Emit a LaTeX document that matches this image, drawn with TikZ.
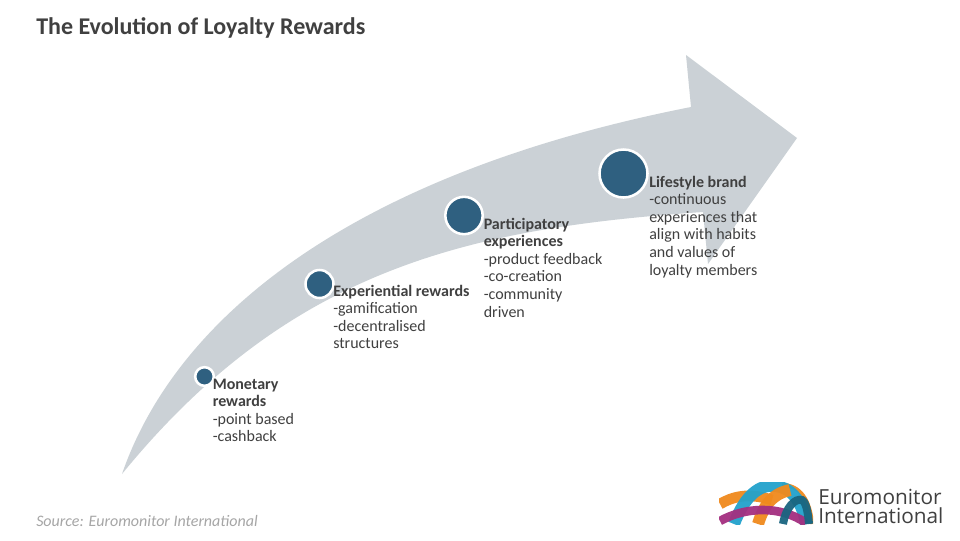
\documentclass[tikz,border=0pt]{standalone}
\usepackage{fontspec}
\setmainfont{Carlito}
\newfontfamily\logofont{Open Sans}
\definecolor{arrowgrey}{HTML}{CBD1D6}
\definecolor{dotblue}{HTML}{2F6080}
\definecolor{ink}{HTML}{404040}
\definecolor{srcgrey}{HTML}{A6A6A6}
\definecolor{lorange}{HTML}{F08A1D}
\definecolor{lblue}{HTML}{22A2CC}
\definecolor{lpurple}{HTML}{A42F80}
\definecolor{lteal}{HTML}{1A6580}
\tikzset{
  dot/.style={circle,draw=white,line width=1.9pt,fill=dotblue,inner sep=0pt,minimum size=#1},
  lab/.style={anchor=north west,align=left,inner sep=0pt,text=ink,font=\fontsize{12}{13.2}\selectfont},
  band/.style={line width=#1,line cap=butt,opacity=.95}
}
\begin{document}
\begin{tikzpicture}[x=0.75pt,y=-0.75pt]
\useasboundingbox (0,0) rectangle (960,540);
\fill[white] (0,0) rectangle (960,540);
\fill[arrowgrey] (122,474) .. controls (178,312) and (360,172) .. (691,107)
  -- (686,55) -- (797,138) -- (708,264) -- (703,212)
  .. controls (470,228) and (290,268) .. (122,474) -- cycle;
\node[anchor=west,inner sep=0pt,text=ink,font=\fontsize{18}{20}\selectfont\bfseries] (title) at (36,28) {The Evolution of Loyalty Rewards};
\node[dot=14pt] (d1) at (204.5,376.5) {};
\node[dot=21pt] (d2) at (319.5,284) {};
\node[dot=28pt] (d3) at (464,215.5) {};
\node[dot=36pt] (d4) at (623.5,173.5) {};
\node[lab] (t1) at (212.5,378.5) {\textbf{Monetary}\\\textbf{rewards}\\-point based\\-cashback};
\node[lab] (t2) at (333,284.5) {\textbf{Experiential rewards}\\-gamification\\-decentralised\\structures};
\node[lab] (t3) at (483.5,217.5) {\textbf{Participatory}\\\textbf{experiences}\\-product feedback\\-co-creation\\-community\\driven};
\node[lab] (t4) at (649,175.5) {\textbf{Lifestyle brand}\\-continuous\\experiences that\\align with habits\\and values of\\loyalty members};
\node[anchor=west,inner sep=0pt,text=srcgrey,font=\fontsize{12}{14}\selectfont\itshape] (src) at (36,520.5) {Source: Euromonitor International};
% logo
\begin{scope}
\clip (719,482) rectangle (813,524);
\draw[lorange,band=8pt] (720,504) .. controls (732,497) and (748,492) .. (772,500);
\draw[lorange,band=3pt] (782,485) .. controls (800,485) and (810,500) .. (812,524);
\draw[lblue,band=9pt] (734,524) .. controls (745,495) and (760,484) .. (775,486)
  .. controls (790,487) and (802,500) .. (806,524);
\draw[lorange,band=9pt] (758,524) .. controls (764,505) and (772,494) .. (790,490);
\draw[lpurple,band=6.5pt] (720,521) .. controls (745,507) and (780,505) .. (806,523);
\draw[lteal,band=6pt] (783,524) .. controls (786,507) and (795,498) .. (802,500)
  .. controls (806,502) and (808,512) .. (809,524);
\end{scope}
\node[anchor=west,inner sep=0pt,text=ink,font=\logofont\fontsize{15.6}{15}\selectfont] (logo1) at (818,497) {Euromonitor};
\node[anchor=west,inner sep=0pt,text=ink,font=\logofont\fontsize{15.6}{15}\selectfont] (logo2) at (818,516) {International};
\end{tikzpicture}
\end{document}
